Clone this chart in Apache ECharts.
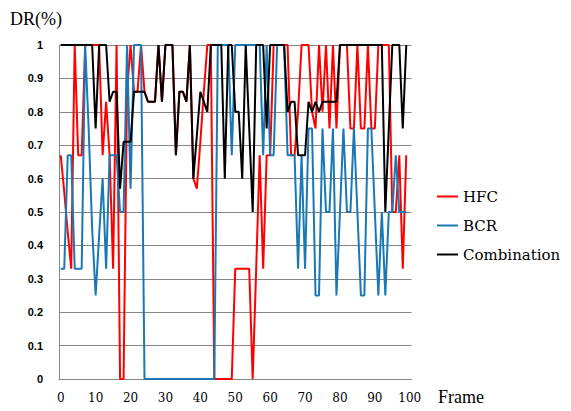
<!DOCTYPE html>
<html>
<head>
<meta charset="utf-8">
<script src="https://cdn.jsdelivr.net/npm/echarts@6/dist/echarts.min.js"></script>
<style>
  html, body { margin: 0; padding: 0; background: #fff; }
  #chart { width: 571px; height: 411px; }
</style>
</head>
<body>
<div id="chart"></div>
<script>
// frame numbers on the x axis (0..100), data covers frames 0..99
const frames = Array.from({ length: 101 }, (_, i) => String(i))

const hfc = [
  0.67, 0.56, 0.44, 0.33, 1, 0.67, 0.67, 1, 1, 1,
  1, 1, 0.67, 0.83, 0.67, 0.33, 1, 0, 0, 0.86,
  1, 0.86, 0.86, 1, 0.86, 0.83, 0.83, 0.83, 1, 0.83,
  1, 1, 1, 0.67, 0.86, 0.86, 0.83, 1, 0.6, 0.57,
  0.71, 0.86, 1, 1, 0, 0, 0, 0, 0, 0,
  0.33, 0.33, 0.33, 0.33, 0.33, 0, 0.33, 0.67, 0.33, 0.67,
  0.67, 1, 1, 1, 1, 1, 0.67, 0.67, 0.8, 1,
  1, 1, 0.8, 0.75, 1, 0.8, 1, 0.75, 1, 0.75,
  1, 1, 1, 0.75, 0.75, 1, 0.75, 0.75, 1, 0.75,
  0.75, 1, 1, 1, 1, 0.5, 0.5, 0.67, 0.33, 0.67
]

const bcr = [
  0.33, 0.33, 0.67, 0.67, 0.33, 0.33, 0.33, 1, 0.75, 0.45,
  0.25, 0.43, 0.6, 0.33, 0.67, 0.67, 0.67, 0.5, 0.5, 1,
  0.57, 1, 1, 1, 0, 0, 0, 0, 0, 0,
  0, 0, 0, 0, 0, 0, 0, 0, 0, 0,
  0, 0, 0, 0, 0, 1, 1, 1, 1, 0.67,
  1, 1, 1, 1, 1, 1, 1, 1, 0.67, 1,
  0.67, 0.67, 1, 1, 1, 0.67, 0.67, 0.67, 0.33, 0.67,
  0.33, 0.75, 0.75, 0.25, 0.25, 0.75, 0.5, 0.5, 0.75, 0.25,
  0.5, 0.75, 0.5, 0.5, 0.75, 0.5, 0.25, 0.25, 0.75, 0.75,
  0.5, 0.25, 0.5, 0.25, 0.5, 0.5, 0.67, 0.5, 0.5, 0.5
]

const combination = [
  1, 1, 1, 1, 1, 1, 1, 1, 1, 1,
  0.75, 1, 1, 1, 0.83, 0.86, 0.86, 0.57, 0.71, 0.71,
  0.71, 0.86, 0.86, 0.86, 0.86, 0.83, 0.83, 0.83, 1, 0.83,
  1, 1, 1, 0.67, 0.86, 0.86, 0.83, 1, 0.6, 0.73,
  0.86, 0.83, 0.8, 1, 1, 1, 1, 0.6, 1, 1,
  0.8, 0.8, 0.6, 1, 0.75, 0.5, 1, 1, 1, 0.75,
  1, 1, 1, 1, 1, 0.8, 0.83, 0.83, 0.67, 0.67,
  0.67, 0.83, 0.8, 0.83, 0.8, 0.83, 0.83, 0.83, 0.83, 0.83,
  1, 1, 1, 1, 1, 1, 1, 1, 1, 1,
  1, 1, 1, 0.5, 0.75, 1, 1, 1, 0.75, 1
]

const seriesNames = ['HFC', 'BCR', 'Combination']
const seriesColors = ['#ff0000', '#1a78b4', '#000000']

const serif = 'DejaVu Serif'

function lineSeries (name, data, color) {
  return {
    name,
    type: 'line',
    data,
    symbol: 'none',
    color,
    lineStyle: { color, width: 2 }
  }
}

let myChart = echarts.init(document.getElementById('chart'), null, { renderer: 'svg' })
myChart.setOption({
  animation: false,
  grid: { left: 59, right: 159.5, top: 45, bottom: 32, containLabel: false },
  legend: {
    orient: 'vertical',
    left: 437,
    top: 189,
    padding: 0,
    icon: 'rect',
    itemWidth: 21,
    itemHeight: 2,
    itemGap: 14,
    data: seriesNames,
    textStyle: { fontFamily: serif, fontSize: 15, color: '#000' }
  },
  graphic: [
    {
      type: 'text', left: 10, top: 10,
      style: { text: 'DR(%)', font: '18px "Liberation Serif"', fill: '#000' }
    },
    {
      type: 'text', left: 438, top: 388,
      style: { text: 'Frame', font: '18px "Liberation Serif"', fill: '#000' }
    }
  ],
  xAxis: {
    type: 'category',
    data: frames,
    boundaryGap: true,
    axisLine: { lineStyle: { color: '#868686', width: 1 } },
    axisTick: { interval: 0, length: 5, lineStyle: { color: '#a6a6a6' } },
    axisLabel: {
      interval: 9,
      margin: 13,
      fontFamily: serif,
      fontSize: 12,
      color: '#000'
    },
    splitLine: { show: false }
  },
  yAxis: {
    type: 'value',
    min: 0,
    max: 1,
    interval: 0.1,
    axisLine: { show: true, lineStyle: { color: '#868686', width: 1 } },
    axisTick: { show: false },
    axisLabel: {
      margin: 16,
      fontFamily: 'Liberation Sans',
      fontWeight: 'bold',
      fontSize: 11,
      color: '#000',
      formatter: v => String(+v.toFixed(1))
    },
    splitLine: { lineStyle: { color: '#868686', width: 1 } }
  },
  series: [
    lineSeries(seriesNames[0], hfc, seriesColors[0]),
    lineSeries(seriesNames[1], bcr, seriesColors[1]),
    lineSeries(seriesNames[2], combination, seriesColors[2])
  ]
})
</script>
</body>
</html>
